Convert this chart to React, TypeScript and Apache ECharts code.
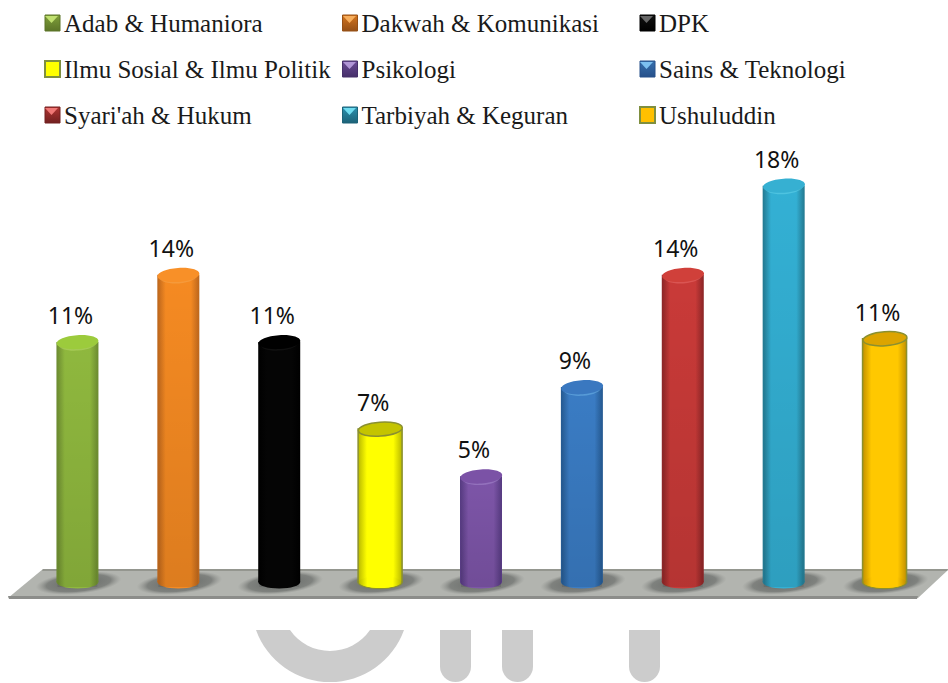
import React, { useEffect, useRef } from "react";
import * as echarts from "echarts";

const categories = ["Adab & Humaniora", "Dakwah & Komunikasi", "DPK", "Ilmu Sosial & Ilmu Politik", "Psikologi", "Sains & Teknologi", "Syari'ah & Hukum", "Tarbiyah & Keguran", "Ushuluddin"];
const percentValues = [10.9, 13.95, 10.9, 6.95, 4.8, 8.85, 13.95, 18, 11.05];
const legendColumns = [
  ["Adab & Humaniora", "Ilmu Sosial & Ilmu Politik", "Syari'ah & Hukum"],
  ["Dakwah & Komunikasi", "Psikologi", "Tarbiyah & Keguran"],
  ["DPK", "Sains & Teknologi", "Ushuluddin"],
];
const edgeColors = ["#6b8a30", "#bb651c", "#000000", "#b8b800", "#553a80", "#24588f", "#8a2526", "#23788f", "#c29000"];
const midColors = ["#8fb83e", "#f58a22", "#050505", "#ffff00", "#7d55a8", "#3a7cc4", "#c93a38", "#33b0d4", "#ffc800"];
const capColors = ["#9ccb3c", "#f89028", "#000000", "#c4c400", "#7b52a6", "#3a78c0", "#d0403a", "#36b0d2", "#dca400"];
const strokeColors = ["none", "none", "none", "#8a9030", "none", "none", "none", "none", "#8a9030"];
const markerTop = ["#c0e070", "#f7ae5c", "#666666", "#ffff00", "#b095d6", "#7cc0f0", "#f07876", "#6fdcf0", "#ffc000"];
const markerMid = ["#7f9f3a", "#d4751f", "#111111", "#ffff00", "#6a4a96", "#3670ae", "#b03432", "#2a90ae", "#ffc000"];
const markerBottom = ["#5c7528", "#965016", "#000000", "#ffff00", "#46306a", "#26508a", "#722020", "#1c6278", "#ffc000"];

const BAR_HALF = 21;
const CAP_RY = 7;
const FONT_SERIF = "'Liberation Serif', serif";
const LEGEND_LEFT = [44, 342, 639];
const LEGEND_TOP = 10.5;

const renderCylinder = (i: number) => (params: any, api: any) => {
  const top = api.coord([api.value(0), api.value(1)]);
  const base = api.coord([api.value(0), 0]);
  const cx = top[0];
  const olive = strokeColors[i] !== "none";
  const hw = olive ? BAR_HALF + 1 : BAR_HALF;
  const stroke = olive ? strokeColors[i] : undefined;
  const lw = olive ? 1.5 : 0;
  const bodyFill = () =>
    new echarts.graphic.LinearGradient(0, 0, 1, 0, [
      { offset: 0, color: edgeColors[i] },
      { offset: 0.2, color: midColors[i] },
      { offset: 0.8, color: midColors[i] },
      { offset: 1, color: edgeColors[i] },
    ]);
  const shade = () =>
    new echarts.graphic.LinearGradient(0, 0, 0, 1, [
      { offset: 0, color: "rgba(0,0,0,0)" },
      { offset: 1, color: olive ? "rgba(0,0,0,0)" : "rgba(0,0,0,0.1)" },
    ]);
  return {
    type: "group",
    children: [
      {
        type: "ellipse",
        shape: { cx: cx + 1, cy: base[1] + 1, rx: 43, ry: 11 },
        rotation: 0.1,
        originX: cx + 1,
        originY: base[1] + 1,
        style: {
          fill: new echarts.graphic.RadialGradient(0.5, 0.5, 0.5, [
            { offset: 0, color: "rgba(95,98,96,0.95)" },
            { offset: 0.75, color: "rgba(110,113,110,0.75)" },
            { offset: 1, color: "rgba(140,142,138,0)" },
          ]),
        },
      },
      {
        type: "ellipse",
        shape: { cx, cy: base[1], rx: hw, ry: CAP_RY - 0.5 },
        style: { fill: bodyFill(), stroke, lineWidth: lw },
      },
      {
        type: "rect",
        shape: { x: cx - hw, y: top[1], width: hw * 2, height: base[1] - top[1] },
        style: { fill: bodyFill(), stroke, lineWidth: lw },
      },
      {
        type: "ellipse",
        shape: { cx, cy: base[1], rx: hw - 0.8, ry: CAP_RY - 1 },
        style: { fill: bodyFill(), opacity: olive ? 1 : 0 },
      },
      {
        type: "rect",
        shape: { x: cx - hw + 1, y: top[1], width: hw * 2 - 2, height: base[1] - top[1] + 5 },
        style: { fill: shade() },
      },
      {
        type: "ellipse",
        shape: { cx, cy: top[1] + 1.5, rx: hw - 2, ry: CAP_RY },
        rotation: 0.07,
        originX: cx,
        originY: top[1] + 1.5,
        style: { fill: i === 2 ? "#1e1e1e" : markerTop[i], opacity: olive ? 0 : 0.45 },
      },
      {
        type: "ellipse",
        shape: { cx, cy: top[1], rx: hw, ry: CAP_RY },
        rotation: 0.07,
        originX: cx,
        originY: top[1],
        style: { fill: capColors[i], stroke, lineWidth: lw },
      },
      {
        type: "text",
        x: cx - 7,
        y: top[1] - 27,
        style: {
          text: `${Math.round(api.value(1))}%`,
          fill: "#111111",
          font: "23px 'Noto Sans', sans-serif",
          align: "center",
          verticalAlign: "middle",
        },
      },
    ],
  };
};

const markerBevels = () => {
  const out: any[] = [];
  legendColumns.forEach((names, c) =>
    names.forEach((name, r) => {
      const i = categories.indexOf(name);
      if (strokeColors[i] !== "none") return;
      const x = LEGEND_LEFT[c];
      const y = LEGEND_TOP + 4.5 + 46 * r;
      out.push({
        type: "polygon",
        z: 100,
        shape: { points: [[x + 1, y + 1], [x + 14, y + 1], [x + 7.5, y + 8]] },
        style: { fill: markerTop[i] },
      });
    })
  );
  return out;
};

const buildOption = () => ({
  animation: false,
  backgroundColor: "#ffffff",
  grid: { left: 27, right: 13, top: 141.6, bottom: 101 },
  xAxis: { type: "category", data: categories, show: false },
  yAxis: { type: "value", min: 0, max: 20, show: false },
  legend: legendColumns.map((names, c) => ({
    orient: "vertical",
    left: LEGEND_LEFT[c],
    top: LEGEND_TOP,
    padding: 0,
    itemWidth: 15,
    itemHeight: 16,
    itemGap: 21,
    icon: "rect",
    selectedMode: false,
    textStyle: { fontFamily: FONT_SERIF, fontSize: 25, color: "#1a1a1a", padding: [0, 0, 0, -1] },
    data: names.map((name) => {
      const i = categories.indexOf(name);
      const olive = strokeColors[i] !== "none";
      return {
        name,
        itemStyle: {
          color: olive
            ? markerMid[i]
            : new echarts.graphic.LinearGradient(0, 0, 0, 1, [
                { offset: 0, color: markerMid[i] },
                { offset: 1, color: markerBottom[i] },
              ]),
          borderColor: olive ? "#7f8f3f" : markerBottom[i],
          borderWidth: olive ? 2 : 1,
        },
      };
    }),
  })),
  graphic: [
    { type: "polygon", shape: { points: [[43, 569], [948, 569], [948, 570], [918, 598], [8, 598]] }, style: { fill: "#b2b4af" } },
    { type: "polygon", shape: { points: [[43, 569], [948, 569], [947, 571], [42, 571]] }, style: { fill: "#94968f" } },
    { type: "polygon", shape: { points: [[8, 596], [918, 596], [917, 599], [9, 599]] }, style: { fill: "#8c8d8a" } },
    { type: "wmArc", x: 0, y: 0, style: { fill: "#cccccc" } },
    { type: "rect", shape: { x: 440, y: 630, width: 31, height: 52, r: [0, 0, 15.5, 15.5] }, style: { fill: "#cccccc" } },
    { type: "rect", shape: { x: 502, y: 630, width: 31, height: 52, r: [0, 0, 15.5, 15.5] }, style: { fill: "#cccccc" } },
    { type: "rect", shape: { x: 629, y: 630, width: 31, height: 52, r: [0, 0, 15.5, 15.5] }, style: { fill: "#cccccc" } },
    ...markerBevels(),
  ],
  series: categories.map((name, i) => ({
    type: "custom",
    name,
    data: [[i, percentValues[i]]],
    itemStyle: { color: midColors[i] },
    clip: false,
    renderItem: renderCylinder(i),
  })),
});

export default function App() {
  const ref = useRef<HTMLDivElement>(null);
  useEffect(() => {
    echarts.graphic.registerShape(
      "wmArc",
      echarts.graphic.extendPath("M256 630 A78.6 78.6 0 0 0 404 630 L370 630 A48.6 48.6 0 0 1 290 630 Z", {})
    );
    const chart = echarts.init(ref.current!, undefined, { renderer: "svg" });
    chart.setOption(buildOption() as any);
    return () => chart.dispose();
  }, []);
  return <div ref={ref} style={{ position: "fixed", left: 0, top: 0, width: 948, height: 683 }} />;
}
